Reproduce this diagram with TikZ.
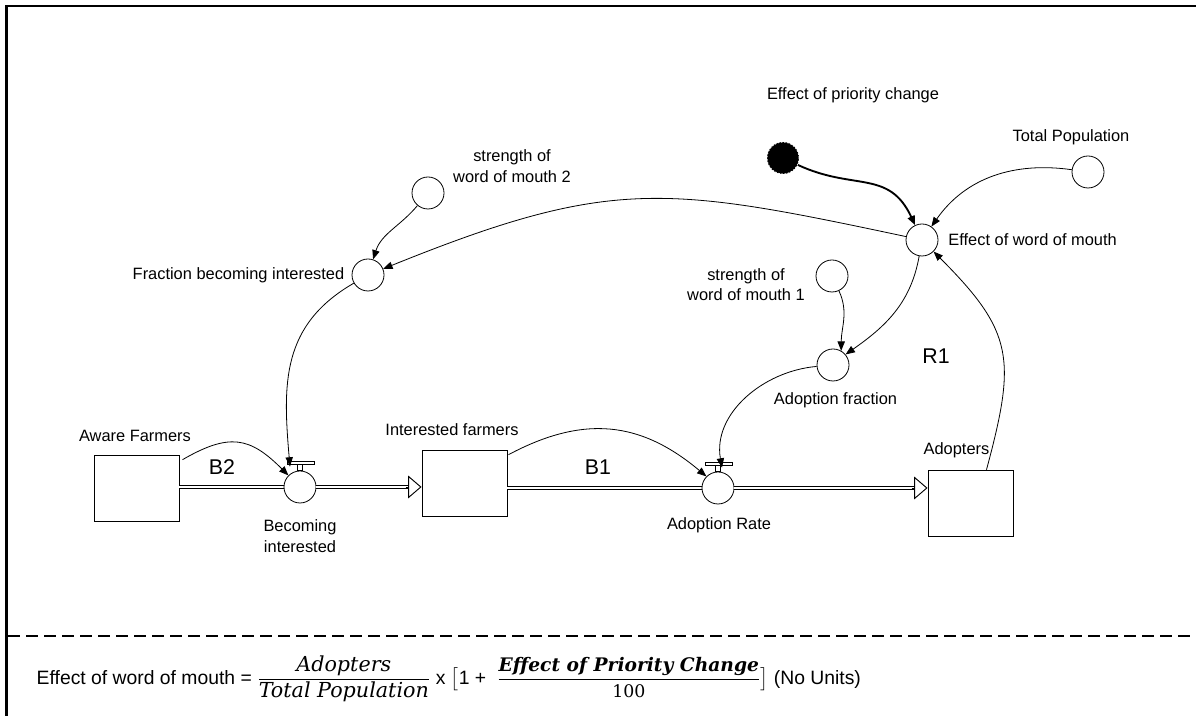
\documentclass[tikz,border=0pt]{standalone}
\usepackage{amsmath}
\usepackage[no-math]{fontspec}
\setmainfont{Liberation Sans}
\newfontfamily\eqfont{DejaVu Serif}
\usepackage{tikz}
\usetikzlibrary{arrows.meta,calc,positioning}

\begin{document}
\begin{tikzpicture}[x=0.75pt, y=0.75pt, every node/.style = {align=center, font=\fontsize{12.3}{15.5}\selectfont}]
	\tikzset{ stock/.style = { draw, rectangle, minimum width=63.75pt, minimum height=50pt, line width=0.7pt } }
	\tikzset{ aux/.style = { draw, circle, minimum size=24pt, inner sep=0pt, line width=0.6pt } }
	\tikzset{ valve/.style = { aux, fill=white } }
	\tikzset{ shadowvar/.style = { aux, fill=black, draw=white, dash pattern=on 1.2pt off 1.2pt } }
	\tikzset{ link/.style = { line width=0.6pt, -{Triangle[length=7pt,width=5.5pt]} } }
	\tikzset{ pipe/.style = { line width=0.7pt, double distance=2.2pt } }
	\tikzset{ inflow/.style = { line width=0.7pt, -{Triangle[open,length=10pt,width=17pt]} } }
	\tikzset{ looplabel/.style = { font=\fontsize{16}{18}\selectfont } }

	\useasboundingbox (0,0) rectangle (1196,716);
	\draw[line width=2.2pt] (6.5,0) -- (6.5,710) -- (1196,710);
	\draw[line width=1.5pt, dash pattern=on 9pt off 4.5pt] (8,80) -- (1196,80);

	\node[stock] (aware) at (136.5,227.5) {};
	\node[stock] (intf) at (464.5,232.5) {};
	\node[stock] (adopt) at (970.5,212.5) {};
	\node[aux] (frac) at (368,441) {};
	\node[aux] (str2) at (428,523) {};
	\node[aux] (ewom) at (922,476) {};
	\node[shadowvar] (prio) at (783,558) {};
	\node[aux] (totpop) at (1088,544) {};
	\node[aux] (str1) at (832,440) {};
	\node[aux] (adfrac) at (833,351) {};

	\draw[pipe] (aware.east |- 300,229) -- (300,229);
	\draw[pipe] (intf.east |- 718,228) -- (718,228);
	\node[valve] (becint) at (300,229) {};
	\node[valve] (adrate) at (718,228) {};
	\foreach \v/\s in {becint/intf, adrate/adopt} {
		\coordinate (\v end) at (\v.east -| \s.west);
		\draw[pipe] (\v.east) -- ($(\v end)+(-13,0)$);
		\draw[inflow] ($(\v end)+(-16,0)$) -- (\v end);
		\draw[line width=0.6pt] ($(\v.north)+(-2.5,0)$) rectangle ($(\v.north)+(2.5,6)$);
		\draw[line width=0.6pt, fill=white] ($(\v.north)+(-13,6)$) rectangle ($(\v.north)+(14,9)$);
	}

	\node (awarelbl) at (135,280) {Aware Farmers};
	\node (becintlbl) at (300,180) {Becoming\\interested};
	\node (intflbl) at (452,286) {Interested farmers};
	\node (adratelbl) at (719,191) {Adoption Rate};
	\node (adoptlbl) at (956.5,266) {Adopters};
	\node[left=2pt of frac] (fraclbl) {Fraction becoming interested};
	\node (str2lbl) at (512,550) {strength of\\word of mouth 2};
	\node (priolbl) at (853,621) {Effect of priority change};
	\node (totpoplbl) at (1071,579) {Total Population};
	\node[right=4pt of ewom] (ewomlbl) {Effect of word of mouth};
	\node (str1lbl) at (746,431.5) {strength of\\word of mouth 1};
	\node (adfraclbl) at (835.5,316) {Adoption fraction};
	\node[looplabel] (loopB2) at (222,249) {B2};
	\node[looplabel] (loopB1) at (598,249) {B1};
	\node[looplabel] (loopR1) at (936,360) {R1};

	\draw[link] ($(aware.north east)+(3,-5)$) to[out=30, in=135, looseness=1.3] (becint.north west);
	\draw[link] (frac) to[out=-150, in=95, looseness=1.1] ($(becint.north)+(-10,4)$);
	\draw[link] (str2) to[out=-130, in=72] (frac);
	\draw[link] (ewom) to[out=168, in=22, looseness=1.2] (frac);
	\draw[link, line width=1.4pt] (prio) to[out=-25, in=115, looseness=1.2] (ewom);
	\draw[link] (totpop) to[out=172, in=55] (ewom);
	\draw[link] (ewom) to[out=-100, in=35] (adfrac.40);
	\draw[link] (str1) to[out=-65, in=90] (adfrac.60);
	\draw[link] (adfrac) to[out=185, in=100] ($(adrate.north)+(4,4)$);
	\draw[link] ($(intf.north east)+(1,-5)$) to[out=28, in=140, looseness=1.1] (adrate.north west);
	\draw[link] ($(adopt.north)+(16,0)$) to[out=75, in=-45, looseness=1.3] (ewom);

	\node[anchor=west, font=\fontsize{14.5}{17}\selectfont] (eqn) at (32,37) {Effect of word of mouth = $\dfrac{\text{\eqfont\fontsize{15.5}{17}\selectfont\itshape Adopters}}{\text{\eqfont\fontsize{15.5}{17}\selectfont\itshape Total Population}}$ x $\bigl[$1 + \ $\dfrac{\text{\eqfont\fontsize{14}{17}\selectfont\bfseries\itshape Effect of Priority Change}}{\text{\eqfont\fontsize{13}{15}\selectfont 100}}\bigr]$ (No Units)};
\end{tikzpicture}
\end{document}
